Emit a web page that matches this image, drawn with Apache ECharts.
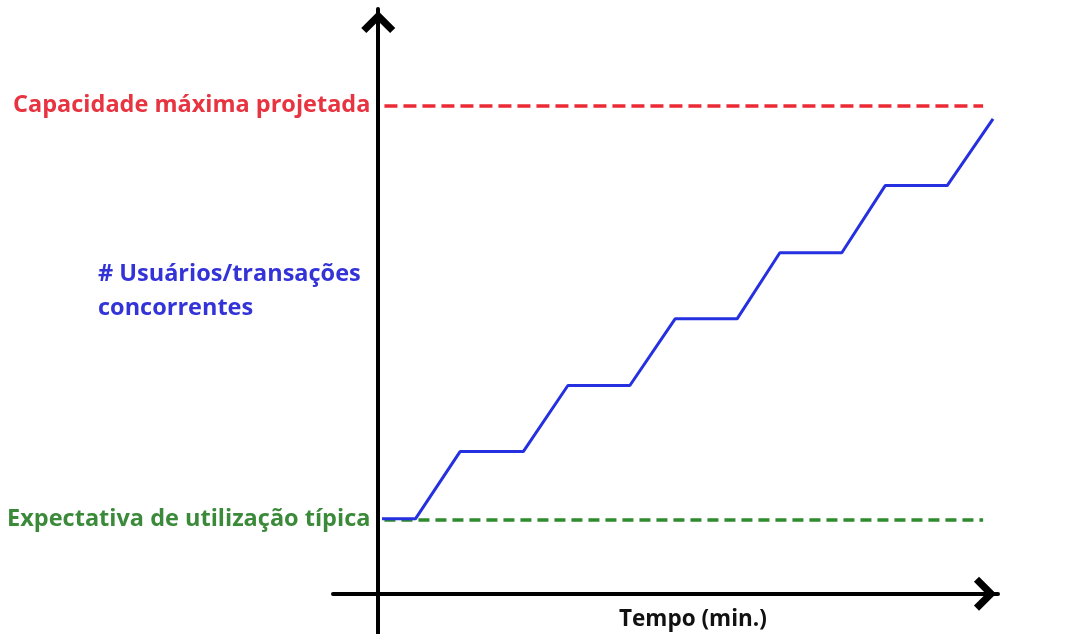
<!DOCTYPE html>
<html>
<head>
<meta charset="utf-8">
<script src="https://cdn.jsdelivr.net/npm/echarts@6/dist/echarts.min.js"></script>
<style>
  html, body { margin: 0; padding: 0; background: #fff; }
  #chart { width: 1070px; height: 634px; }
</style>
</head>
<body>
<div id="chart"></div>
<script>
// Dados (tempo x usuários)
const tempo = [0.6, 6.0, 13.2, 23.4, 30.6, 40.6, 47.9, 57.9, 64.8, 74.8, 81.8, 91.8, 99.2];
const usuarios = [12.8, 12.8, 24.3, 24.3, 35.6, 35.6, 47.0, 47.0, 58.3, 58.3, 69.8, 69.8, 81.2];

const capacidadeMax = 83.5;        // linha vermelha
const expectativaTipica = 12.7;    // linha verde
const limiteCapacidade = [1.0, 97.6];
const limiteExpectativa = [1.0, 97.6];

const rotuloCapacidade = "Capacidade máxima projetada";
const rotuloExpectativa = "Expectativa de utilização típica";
const rotuloSerie = "# Usuários/transações\nconcorrentes";
const rotuloTempo = "Tempo (min.)";

const fonte = "'Open Sans', Lato, sans-serif";

// Seta em forma de chevron para o fim dos eixos
const seta = "path://M10,0 L20,10 L17,13 L10,6 L3,13 L0,10 Z";

const chart = echarts.init(document.getElementById("chart"));

const eixoComum = {
    type: "value",
    axisTick: { show: false },
    axisLabel: { show: false },
    splitLine: { show: false },
    axisLine: {
        show: true,
        onZero: true,
        symbol: ["none", seta],
        symbolSize: [34, 26],
        symbolOffset: [0, -13],
        lineStyle: { color: "#000", width: 4 }
    }
};

// linha tracejada horizontal com rótulo à esquerda
const linhaLimite = (y, limites, texto, cor, corTexto, traco) => [
    {
        coord: [limites[0], y],
        lineStyle: { color: cor, width: 3.5, type: traco },
        label: {
            show: true,
            position: "start",
            distance: 14,
            formatter: texto,
            fontFamily: fonte, fontWeight: "bold", fontSize: 23.5,
            color: corTexto
        }
    },
    { coord: [limites[1], y] }
];

const option = {
    animation: false,
    backgroundColor: "#fff",
    grid: { left: 333, right: 72, top: 9, bottom: 0, containLabel: false, outerBoundsMode: "none" },
    xAxis: Object.assign({}, eixoComum, { min: -7.3, max: 100 }),
    yAxis: Object.assign({}, eixoComum, { min: -6.9, max: 100 }),
    graphic: [
        {
            type: "text",
            left: 98,
            top: 257,
            style: {
                text: rotuloSerie,
                font: "bold 23.5px " + fonte,
                fill: "#3333d8",
                lineHeight: 34
            }
        },
        {
            type: "text",
            left: 619,
            top: 608,
            style: {
                text: rotuloTempo,
                font: "bold 22.5px " + fonte,
                fill: "#111"
            }
        }
    ],
    series: [
        {
            type: "line",
            data: tempo.map((t, i) => [t, usuarios[i]]),
            showSymbol: false,
            silent: true,
            z: 3,
            lineStyle: { color: "#2530e0", width: 3 },
            markLine: {
                silent: true,
                symbol: ["none", "none"],
                z: 2,
                data: [
                    linhaLimite(expectativaTipica, limiteExpectativa, rotuloExpectativa, "#2e8b2e", "#3a8a3a", [11, 6]),
                    linhaLimite(capacidadeMax, limiteCapacidade, rotuloCapacidade, "#ec2a35", "#e83340", [13, 6])
                ]
            }
        }
    ]
};

chart.setOption(option);
</script>
</body>
</html>
